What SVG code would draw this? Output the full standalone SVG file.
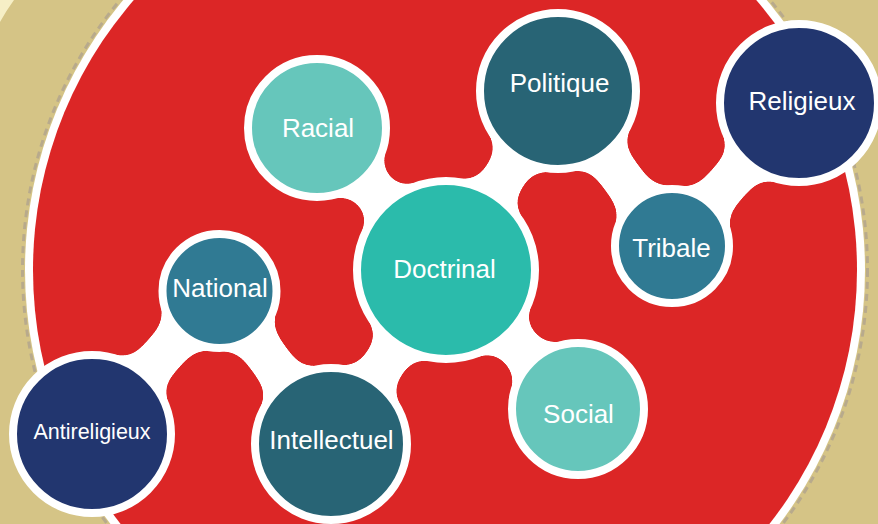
<svg xmlns="http://www.w3.org/2000/svg" width="878" height="524" viewBox="0 0 878 524">
<defs>
<style>
.lbl{font-family:"Liberation Sans",Arial,Helvetica,sans-serif;fill:#ffffff;text-anchor:middle;font-size:26px}
.link{stroke:#ffffff;stroke-width:42;stroke-linecap:round;fill:none}
.halo{fill:#ffffff}
.n{stroke:#ffffff;stroke-width:8}
.teal-l{fill:#66c6bb}
.teal{fill:#2bbbab}
.petrol{fill:#286475}
.blue{fill:#307a93}
.navy{fill:#22366f}
</style>
<filter id="goo" filterUnits="userSpaceOnUse" x="-60" y="-60" width="1000" height="650">
<feGaussianBlur in="SourceGraphic" stdDeviation="11" result="b"/>
<feColorMatrix in="b" type="matrix" values="0 0 0 0 1  0 0 0 0 1  0 0 0 0 1  0 0 0 40 -20"/>
</filter>
</defs>
<g id="background">
<rect x="0" y="0" width="878" height="524" fill="#d5c486"/>
<path d="M0,0 L14,0 Q6,11 0,22 Z" fill="#f6efc6"/>
<circle cx="445" cy="270" r="422.5" fill="none" stroke="#b8aa8c" stroke-width="3" stroke-dasharray="7 5"/>
<circle cx="445" cy="270" r="420" fill="#ffffff"/>
<circle cx="445" cy="270" r="412" fill="#dc2626"/>
</g>
<g id="connectors" filter="url(#goo)">
<line class="link" x1="317" y1="128" x2="446" y2="270"/>
<line class="link" x1="446" y1="270" x2="558" y2="91"/>
<line class="link" x1="558" y1="91" x2="672" y2="246"/>
<line class="link" x1="672" y1="246" x2="799" y2="103"/>
<line class="link" x1="446" y1="270" x2="578" y2="409"/>
<line class="link" x1="446" y1="270" x2="331" y2="444"/>
<line class="link" x1="331" y1="444" x2="219.5" y2="291"/>
<line class="link" x1="219.5" y1="291" x2="92" y2="434"/>
<circle class="halo" cx="317" cy="128" r="73"/>
<circle class="halo" cx="558" cy="91" r="82"/>
<circle class="halo" cx="799" cy="103" r="83"/>
<circle class="halo" cx="672" cy="246" r="61"/>
<circle class="halo" cx="446" cy="270" r="93"/>
<circle class="halo" cx="578" cy="409" r="70"/>
<circle class="halo" cx="331" cy="444" r="80"/>
<circle class="halo" cx="219.5" cy="291" r="61"/>
<circle class="halo" cx="92" cy="434" r="83"/>
</g>
<g id="node-racial">
<circle class="n teal-l" cx="317" cy="128" r="69"/>
<text class="lbl" x="318" y="137">Racial</text>
</g>
<g id="node-politique">
<circle class="n petrol" cx="558" cy="91" r="78"/>
<text class="lbl" x="559.5" y="92">Politique</text>
</g>
<g id="node-religieux">
<circle class="n navy" cx="799" cy="103" r="79"/>
<text class="lbl" x="802" y="110">Religieux</text>
</g>
<g id="node-tribale">
<circle class="n blue" cx="672" cy="246" r="57"/>
<text class="lbl" x="671.5" y="257">Tribale</text>
</g>
<g id="node-doctrinal">
<circle class="n teal" cx="446" cy="270" r="89"/>
<text class="lbl" x="444.5" y="278">Doctrinal</text>
</g>
<g id="node-social">
<circle class="n teal-l" cx="578" cy="409" r="66"/>
<text class="lbl" x="578.5" y="423">Social</text>
</g>
<g id="node-intellectuel">
<circle class="n petrol" cx="331" cy="444" r="76"/>
<text class="lbl" x="331.5" y="449">Intellectuel</text>
</g>
<g id="node-national">
<circle class="n blue" cx="219.5" cy="291" r="57"/>
<text class="lbl" x="220" y="297">National</text>
</g>
<g id="node-antireligieux">
<circle class="n navy" cx="92" cy="434" r="79"/>
<text class="lbl" x="92" y="439" style="font-size:21.5px">Antireligieux</text>
</g>
</svg>
